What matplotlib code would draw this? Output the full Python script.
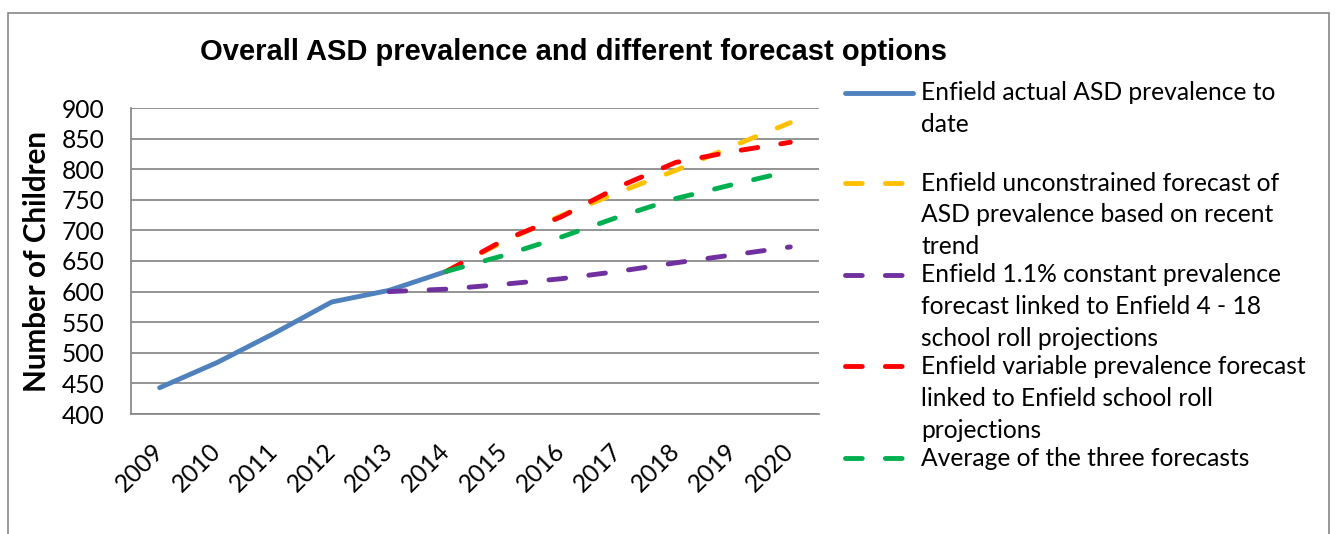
import matplotlib
matplotlib.use("Agg")
import matplotlib.pyplot as plt
from matplotlib.lines import Line2D
from matplotlib.patches import Rectangle

# ---------------- data ----------------
years = [str(y) for y in range(2009, 2021)]
actual_years = years[:6]                      # 2009-2014
actual = [443, 484, 532, 583, 602, 633]
fc_years = years[5:]                          # 2014-2020
unconstrained = [633, 682, 724, 762, 798, 838, 876]
constant_years = years[4:]                    # 2013-2020
constant = [600, 604, 612, 621, 633, 647, 660, 673]
variable = [633, 684, 722, 771, 811, 829, 844]
average = [633, 659, 689, 722, 752, 775, 797]

labels = [
    "Enfield actual ASD prevalence to\ndate",
    "Enfield unconstrained forecast of\nASD prevalence based on recent\ntrend",
    "Enfield 1.1% constant prevalence\nforecast linked to Enfield 4 - 18\nschool roll projections",
    "Enfield variable prevalence forecast\nlinked to Enfield school roll\nprojections",
    "Average of the three forecasts",
]
colors = ["#4F81BD", "#FFC000", "#7030A0", "#FF0000", "#00B050"]
title = "Overall ASD prevalence and different forecast options"
ylabel = "Number of Children"
yticks = list(range(400, 901, 50))

# ---------------- layout ----------------
W, H = 1336, 534
fig = plt.figure(figsize=(W / 100, H / 100), dpi=100)
fig.patch.set_facecolor("white")

def fx(px):
    return px / W

def fy(py):
    return 1 - py / H

L, R, T, B = 131, 819, 108, 414
ax = fig.add_axes([fx(L), fy(B), fx(R - L), (B - T) / H])

FONT = "Lato"
GRID = "#868686"
LW = 3.5
DASH = (0, (3.45, 4.8))

xs = {y: i for i, y in enumerate(years)}

ax.plot([xs[y] for y in actual_years], actual, color=colors[0], lw=LW,
        solid_capstyle="round", solid_joinstyle="round", zorder=3)
ax.plot([xs[y] for y in fc_years], unconstrained, color=colors[1], lw=LW,
        linestyle=DASH, dash_capstyle="round", zorder=4)
ax.plot([xs[y] for y in constant_years], constant, color=colors[2], lw=LW,
        linestyle=DASH, dash_capstyle="round", zorder=4)
ax.plot([xs[y] for y in fc_years], variable, color=colors[3], lw=LW,
        linestyle=DASH, dash_capstyle="round", zorder=5)
ax.plot([xs[y] for y in fc_years], average, color=colors[4], lw=LW,
        linestyle=DASH, dash_capstyle="round", zorder=6)

ax.set_xlim(-0.5, len(years) - 0.5)
ax.set_ylim(400, 900)
ax.set_yticks(yticks)
ax.set_xticks(range(len(years)))
ax.grid(axis="y", color=GRID, lw=1.25)
ax.set_axisbelow(True)
for s in ["top", "right"]:
    ax.spines[s].set_visible(False)
for s in ["left", "bottom"]:
    ax.spines[s].set_color(GRID)
    ax.spines[s].set_linewidth(1.25)

tick_fs = 15
ax.tick_params(axis="both", length=0)
ax.tick_params(axis="y", pad=19)
ax.tick_params(axis="x", pad=24)
ax.set_yticklabels([str(v) for v in yticks], fontsize=tick_fs, family=FONT)
ax.set_xticklabels(years, fontsize=tick_fs, family=FONT, rotation=45,
                   ha="right", va="center", rotation_mode="anchor")

renderer = fig.canvas.get_renderer()

def fit_width(t, target):
    w = t.get_window_extent(renderer).width
    t.set_fontsize(t.get_fontsize() * target / w)

def fit_height(t, target):
    h = t.get_window_extent(renderer).height
    t.set_fontsize(t.get_fontsize() * target / h)

# title
tt = fig.text(fx(574), fy(52), title, ha="center", va="center",
              family="Liberation Sans", weight="bold", fontsize=17)
fit_width(tt, 748)

# y label
yl = fig.text(fx(37), fy(261), ylabel, rotation=90, ha="center", va="center",
              family=FONT, weight="bold", fontsize=18)
fit_height(yl, 262)

# legend (manual, handles aligned with first text line)
probe = fig.text(0, 0, labels[3].split("\n")[0], family=FONT, fontsize=tick_fs)
fit_width(probe, 386)
leg_fs = probe.get_fontsize()
probe.remove()
for t in ax.get_xticklabels() + ax.get_yticklabels():
    t.set_fontsize(leg_fs)

entry_y = [93, 183, 275, 366, 458]
line_gap = 32
for i, (lab, col, ey) in enumerate(zip(labels, colors, entry_y)):
    if i == 0:
        ln = Line2D([fx(845), fx(913)], [fy(ey), fy(ey)], color=col, lw=LW,
                    solid_capstyle="round", transform=fig.transFigure)
    else:
        ln = Line2D([fx(845), fx(903)], [fy(ey), fy(ey)], color=col, lw=LW,
                    linestyle=(0, (3.45, 4.75)), dash_capstyle="round",
                    transform=fig.transFigure)
    fig.add_artist(ln)
    for k, part in enumerate(lab.split("\n")):
        fig.text(fx(921), fy(ey + k * line_gap), part, ha="left", va="center",
                 family=FONT, fontsize=leg_fs)

# chart area border
fig.add_artist(Rectangle((fx(8), fy(545)), fx(1329 - 8), (545 - 13) / H,
                         transform=fig.transFigure, fill=False,
                         edgecolor=GRID, lw=1.2, clip_on=False))

fig.savefig("out.png", dpi=100)
